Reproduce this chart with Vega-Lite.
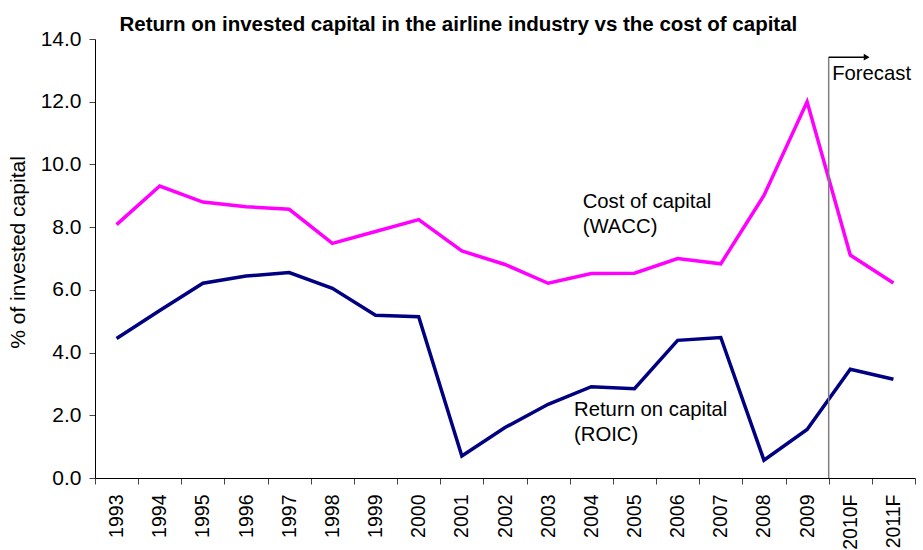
{
  "$schema": "https://vega.github.io/schema/vega-lite/v6.json",
  "width": 820,
  "height": 439,
  "autosize": {"type": "none"},
  "padding": {"left": 95, "top": 39, "right": 8, "bottom": 72},
  "background": "white",
  "config": {"font": "Liberation Sans", "view": {"stroke": null}},
  "title": {
    "text": "Return on invested capital in the airline industry vs the cost of capital",
    "anchor": "start",
    "frame": "group",
    "fontSize": 20.5,
    "fontWeight": "bold",
    "font": "Liberation Sans",
    "color": "#000000",
    "dx": 24.5,
    "offset": 0,
    "dy": 7
  },
  "datasets": {
    "series": [
      {"year": "1993", "series": "WACC", "value": 8.08},
      {"year": "1994", "series": "WACC", "value": 9.31},
      {"year": "1995", "series": "WACC", "value": 8.8},
      {"year": "1996", "series": "WACC", "value": 8.65},
      {"year": "1997", "series": "WACC", "value": 8.57},
      {"year": "1998", "series": "WACC", "value": 7.48},
      {"year": "1999", "series": "WACC", "value": 7.86},
      {"year": "2000", "series": "WACC", "value": 8.24},
      {"year": "2001", "series": "WACC", "value": 7.24},
      {"year": "2002", "series": "WACC", "value": 6.81},
      {"year": "2003", "series": "WACC", "value": 6.21},
      {"year": "2004", "series": "WACC", "value": 6.52},
      {"year": "2005", "series": "WACC", "value": 6.53},
      {"year": "2006", "series": "WACC", "value": 7.0},
      {"year": "2007", "series": "WACC", "value": 6.83},
      {"year": "2008", "series": "WACC", "value": 9.01},
      {"year": "2009", "series": "WACC", "value": 12.0},
      {"year": "2010F", "series": "WACC", "value": 7.11},
      {"year": "2011F", "series": "WACC", "value": 6.22},
      {"year": "1993", "series": "ROIC", "value": 4.45},
      {"year": "1994", "series": "ROIC", "value": 5.34},
      {"year": "1995", "series": "ROIC", "value": 6.21},
      {"year": "1996", "series": "ROIC", "value": 6.44},
      {"year": "1997", "series": "ROIC", "value": 6.55},
      {"year": "1998", "series": "ROIC", "value": 6.05},
      {"year": "1999", "series": "ROIC", "value": 5.19},
      {"year": "2000", "series": "ROIC", "value": 5.14},
      {"year": "2001", "series": "ROIC", "value": 0.7},
      {"year": "2002", "series": "ROIC", "value": 1.61},
      {"year": "2003", "series": "ROIC", "value": 2.35},
      {"year": "2004", "series": "ROIC", "value": 2.91},
      {"year": "2005", "series": "ROIC", "value": 2.85},
      {"year": "2006", "series": "ROIC", "value": 4.39},
      {"year": "2007", "series": "ROIC", "value": 4.48},
      {"year": "2008", "series": "ROIC", "value": 0.57},
      {"year": "2009", "series": "ROIC", "value": 1.55},
      {"year": "2010F", "series": "ROIC", "value": 3.47},
      {"year": "2011F", "series": "ROIC", "value": 3.15}
    ],
    "notes": [
      {"label": "Cost of capital", "x": 11.3, "y": 8.79},
      {"label": "(WACC)", "x": 11.3, "y": 7.99},
      {"label": "Return on capital", "x": 11.1, "y": 2.16},
      {"label": "(ROIC)", "x": 11.1, "y": 1.36},
      {"label": "Forecast", "x": 17.08, "y": 12.87}
    ],
    "divider": [{"x": 17, "y": 0, "y2": 13.42}],
    "arrow": [{"x": 17, "x2": 17.82, "y": 13.42, "tip": 17.88}]
  },
  "layer": [
    {
      "data": {"name": "series"},
      "mark": {"type": "line", "strokeWidth": 3.5, "strokeJoin": "miter"},
      "encoding": {
        "x": {
          "field": "year",
          "type": "ordinal",
          "sort": null,
          "bandPosition": 0.5,
          "scale": {"type": "band", "paddingInner": 0, "paddingOuter": 0},
          "axis": {
            "title": null,
            "tickBand": "extent",
            "labelAngle": -90,
            "labelAlign": "right",
            "labelBaseline": "middle",
            "tickSize": 6,
            "labelPadding": 10,
            "domainColor": "#000000",
            "tickColor": "#444444",
            "labelColor": "#000000",
            "labelFontSize": 19.5,
            "labelFont": "Liberation Sans",
            "grid": false
          }
        },
        "y": {
          "field": "value",
          "type": "quantitative",
          "scale": {"domain": [0, 14], "nice": false},
          "axis": {
            "values": [0, 2, 4, 6, 8, 10, 12, 14],
            "format": ".1f",
            "tickSize": 6,
            "labelPadding": 8,
            "grid": false,
            "domainColor": "#000000",
            "tickColor": "#444444",
            "labelColor": "#000000",
            "labelFontSize": 21,
            "labelFont": "Liberation Sans",
            "title": "% of invested capital",
            "titleFont": "Liberation Sans",
            "titleFontSize": 21,
            "titleFontWeight": "normal",
            "titleColor": "#000000",
            "titleAngle": -90,
            "titleX": -77,
            "titleY": 213,
            "titleAlign": "center",
            "titleBaseline": "middle"
          }
        },
        "color": {
          "field": "series",
          "type": "nominal",
          "scale": {"domain": ["WACC", "ROIC"], "range": ["#FF00FF", "#000080"]},
          "legend": null
        }
      }
    },
    {
      "data": {"name": "divider"},
      "mark": {"type": "rule", "color": "#7f7f7f", "strokeWidth": 1.5},
      "encoding": {
        "x": {"field": "x", "type": "quantitative", "scale": {"domain": [0, 19], "nice": false, "zero": false}, "axis": null},
        "y": {"field": "y", "type": "quantitative"},
        "y2": {"field": "y2"}
      }
    },
    {
      "data": {"name": "arrow"},
      "mark": {"type": "rule", "color": "#000000", "strokeWidth": 1.5},
      "encoding": {
        "x": {"field": "x", "type": "quantitative", "scale": {"domain": [0, 19], "nice": false, "zero": false}, "axis": null},
        "x2": {"field": "x2"},
        "y": {"field": "y", "type": "quantitative"}
      }
    },
    {
      "data": {"name": "arrow"},
      "mark": {"type": "point", "shape": "triangle-right", "filled": true, "color": "#000000", "size": 45, "opacity": 1},
      "encoding": {
        "x": {"field": "tip", "type": "quantitative", "scale": {"domain": [0, 19], "nice": false, "zero": false}, "axis": null},
        "y": {"field": "y", "type": "quantitative"}
      }
    },
    {
      "data": {"name": "notes"},
      "mark": {"type": "text", "align": "left", "baseline": "middle", "fontSize": 20.3, "font": "Liberation Sans", "color": "#000000"},
      "encoding": {
        "x": {"field": "x", "type": "quantitative", "scale": {"domain": [0, 19], "nice": false, "zero": false}, "axis": null},
        "y": {"field": "y", "type": "quantitative"},
        "text": {"field": "label"}
      }
    }
  ],
  "resolve": {"scale": {"x": "independent"}}
}
